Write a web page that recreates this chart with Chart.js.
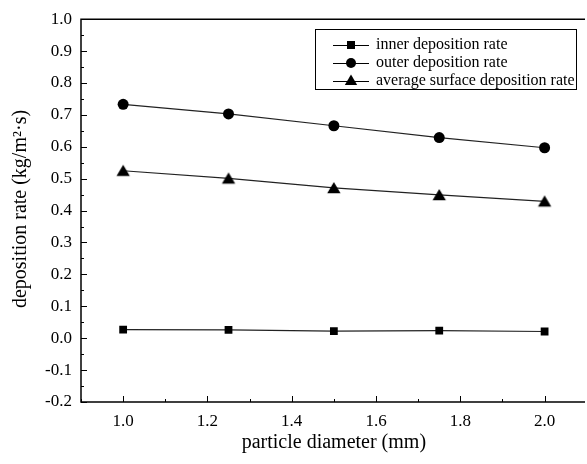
<!DOCTYPE html>
<html><head><meta charset="utf-8">
<script src="https://cdn.jsdelivr.net/npm/chart.js@4.4.1/dist/chart.umd.min.js"></script>
<style>html,body{margin:0;padding:0;background:#fff;}#wrap{width:587px;height:464px;position:relative;}</style>
</head><body><div id="wrap"><canvas id="c" width="587" height="464"></canvas></div>
<script>
const diameters = [1.0, 1.25, 1.5, 1.75, 2.0];
const innerRate = [0.027, 0.026, 0.022, 0.024, 0.021];
const outerRate = [0.733, 0.703, 0.666, 0.629, 0.597];
const averageRate = [0.525, 0.501, 0.471, 0.449, 0.429];
const seriesLabels = ['inner deposition rate', 'outer deposition rate', 'average surface deposition rate'];
const yTicks = [-0.2, -0.1, 0.0, 0.1, 0.2, 0.3, 0.4, 0.5, 0.6, 0.7, 0.8, 0.9, 1.0];
const xTicks = [1.0, 1.2, 1.4, 1.6, 1.8, 2.0];
const xTitle = 'particle diameter (mm)';
const yTitle = 'deposition rate (kg/m\u00B2\u00B7s)';

const FONT = '"Liberation Serif", "Times New Roman", serif';
const pts = arr => diameters.map((d, i) => ({x: d, y: arr[i]}));

function triPath(ctx, x, y, r){
  ctx.beginPath();
  ctx.moveTo(x, y - r);
  ctx.lineTo(x + r*0.95, y + r*0.62);
  ctx.lineTo(x - r*0.95, y + r*0.62);
  ctx.closePath();
}

const decor = {
  id: 'decor',
  afterDraw(chart){
    const ctx = chart.ctx, a = chart.chartArea;
    const xs = chart.scales.x, ys = chart.scales.y;
    ctx.save();
    ctx.strokeStyle = '#000'; ctx.lineWidth = 1.5;
    ctx.beginPath();
    ctx.moveTo(a.right + 5, a.top); ctx.lineTo(a.left, a.top); ctx.lineTo(a.left, a.bottom); ctx.lineTo(a.right + 5, a.bottom);
    ctx.stroke();
    ctx.lineWidth = 1;
    for (let v = 0.9; v <= xs.max + 1e-9; v += 0.1) {
      const px = Math.round(xs.getPixelForValue(v)) + 0.5;
      const major = Math.abs(Math.round(v*10) % 2) === 0;
      ctx.beginPath(); ctx.moveTo(px, a.bottom); ctx.lineTo(px, a.bottom - (major ? 6 : 3)); ctx.stroke();
    }
    for (let v = -0.2; v <= 1.0001; v += 0.05) {
      const py = Math.round(ys.getPixelForValue(v)) + 0.5;
      const major = Math.abs(Math.round(v*100) % 10) === 0;
      ctx.beginPath(); ctx.moveTo(a.left, py); ctx.lineTo(a.left + (major ? 6 : 3), py); ctx.stroke();
    }
    ctx.fillStyle = '#000';
    ctx.font = '20px ' + FONT;
    ctx.textAlign = 'center'; ctx.textBaseline = 'middle';
    ctx.fillText(xTitle, (a.left + xs.getPixelForValue(2.1)) / 2, 443);
    ctx.save();
    ctx.translate(21, 209);
    ctx.rotate(-Math.PI/2);
    ctx.fillText(yTitle, 0, 0);
    ctx.restore();
    const lx = 315, ly = 29, lw = 261, lh = 60;
    ctx.lineWidth = 1;
    ctx.strokeRect(lx + 0.5, ly + 0.5, lw, lh);
    ctx.font = '16px ' + FONT;
    ctx.textAlign = 'left';
    const rows = [45, 63, 81];
    chart.data.datasets.forEach((ds, i) => {
      const y = rows[i];
      ctx.strokeStyle = '#000'; ctx.lineWidth = 1;
      ctx.beginPath(); ctx.moveTo(333, y + 0.5); ctx.lineTo(369, y + 0.5); ctx.stroke();
      ctx.fillStyle = '#000';
      if (ds.pointStyle === 'rect') ctx.fillRect(347, y - 4, 8, 8);
      else if (ds.pointStyle === 'circle') { ctx.beginPath(); ctx.arc(351, y, 5, 0, Math.PI*2); ctx.fill(); }
      else { triPath(ctx, 351, y, 6.5); ctx.fill(); }
      ctx.fillText(ds.label, 376, y);
    });
    ctx.restore();
  }
};

function makeTri(){
  const c = document.createElement('canvas'); c.width = 16; c.height = 16;
  const g = c.getContext('2d'); g.fillStyle = '#000'; triPath(g, 8, 9, 7); g.fill();
  return c;
}

new Chart(document.getElementById('c'), {
  type: 'scatter',
  data: { datasets: [
    {label: seriesLabels[0], data: pts(innerRate), showLine: true, borderColor: '#222', borderWidth: 1.2, backgroundColor: '#000', pointStyle: 'rect', pointRadius: 5.5, pointBorderWidth: 0},
    {label: seriesLabels[1], data: pts(outerRate), showLine: true, borderColor: '#222', borderWidth: 1.2, backgroundColor: '#000', pointStyle: 'circle', pointRadius: 5.5, pointBorderWidth: 0},
    {label: seriesLabels[2], data: pts(averageRate), showLine: true, borderColor: '#222', borderWidth: 1.2, backgroundColor: '#000', pointStyle: makeTri(), pointRadius: 7, pointBorderWidth: 0}
  ]},
  options: {
    responsive: false, animation: false, devicePixelRatio: 1,
    layout: {padding: {top: 18, right: 0, left: 0, bottom: 0}},
    plugins: {legend: {display: false}, tooltip: {enabled: false}},
    scales: {
      x: {type: 'linear', min: 0.9, max: 2.084,
        afterBuildTicks: s => { s.ticks = xTicks.map(v => ({value: v})); },
        afterFit: s => { s.height = 62; },
        grid: {display: false, drawTicks: false}, border: {display: false},
        ticks: {padding: 9, color: '#000', font: {family: FONT, size: 17}, maxRotation: 0, autoSkip: false, callback: v => v.toFixed(1)}},
      y: {type: 'linear', min: -0.2, max: 1.0,
        afterBuildTicks: s => { s.ticks = yTicks.map(v => ({value: v})); },
        afterFit: s => { s.width = 81; },
        grid: {display: false, drawTicks: false}, border: {display: false},
        ticks: {padding: 9, color: '#000', font: {family: FONT, size: 17}, autoSkip: false, callback: v => v.toFixed(1)}}
    }
  },
  plugins: [decor]
});
</script></body></html>
